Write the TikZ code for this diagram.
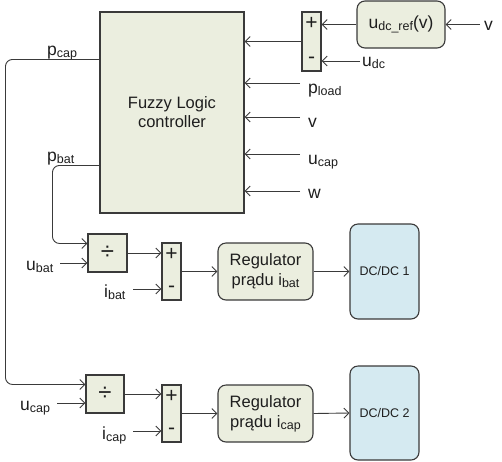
\documentclass[tikz,border=0pt]{standalone}
\usepackage{fontspec}
\setmainfont{Liberation Sans}
\usetikzlibrary{arrows.meta}
\definecolor{boxfill}{HTML}{EBEEDF}
\definecolor{dcfill}{HTML}{D5EAF1}
\definecolor{linec}{HTML}{3A3A3A}
\definecolor{txt}{HTML}{1E1E1E}
\newcommand\sbs[1]{\raisebox{-2pt}{\fontsize{12.5}{13}\selectfont #1}}
\newcommand\mainsz{\fontsize{17.5}{20}\selectfont}
\tikzset{
  blk/.style={draw=linec, line width=1.1pt, fill=boxfill, inner sep=0pt, text=txt},
  rblk/.style={blk, rounded corners=8pt},
  dcblk/.style={draw=linec, line width=1.1pt, fill=dcfill, rounded corners=8pt, inner sep=0pt, text=txt, font=\fontsize{12.5}{15}\selectfont},
  arr/.style={draw=linec, line width=0.9pt, -{Straight Barb[length=5pt,width=10pt]}},
  lab/.style={anchor=base west, inner sep=0pt, text=txt, font=\mainsz},
  sgn/.style={inner sep=0pt, text=txt, font=\fontsize{21}{21}\selectfont},
  divsgn/.style={font=\fontsize{24}{24}\selectfont}
}
\begin{document}
\begin{tikzpicture}[x=1pt,y=-1pt]
\useasboundingbox (0,0) rectangle (502,461);
% blocks
\node[blk, minimum width=144pt, minimum height=201pt, align=center, font=\fontsize{16.5}{19}\selectfont] (fl) at (172,112.5) {Fuzzy Logic\\controller};
\node[blk, minimum width=19pt, minimum height=59pt] (s1) at (311.5,41.5) {};
\node[rblk, minimum width=88pt, minimum height=47pt] (ur) at (401,24.5) {\mainsz u\sbs{dc\_ref}(v)};
\node[blk, minimum width=39pt, minimum height=38pt, divsgn] (d1) at (107.5,253) {÷};
\node[blk, minimum width=19pt, minimum height=57pt] (s2) at (171.5,271.5) {};
\node[rblk, minimum width=95pt, minimum height=57pt, align=center, font=\fontsize{16.5}{20}\selectfont] (r1) at (265.5,271.5) {Regulator\\prądu i\sbs{bat}};
\node[dcblk, minimum width=69pt, minimum height=95pt] (dc1) at (384.5,271.5) {DC/DC 1};
\node[blk, minimum width=38pt, minimum height=38pt, divsgn] (d2) at (105,394) {÷};
\node[blk, minimum width=19pt, minimum height=57pt] (s3) at (171.5,413.5) {};
\node[rblk, minimum width=95pt, minimum height=57pt, align=center, font=\fontsize{16.5}{20}\selectfont] (r2) at (265.5,413.5) {Regulator\\prądu i\sbs{cap}};
\node[dcblk, minimum width=69pt, minimum height=94pt] (dc2) at (384.5,413) {DC/DC 2};
% signs
\node[sgn] (s1p) at (311.5,23.5) {+};
\node[sgn] (s1m) at (311.5,60.5) {-};
\node[sgn] (s2p) at (171.5,254) {+};
\node[sgn] (s2m) at (171.5,289) {-};
\node[sgn] (s3p) at (171.5,396) {+};
\node[sgn] (s3m) at (171.5,431) {-};
% input coordinates
\coordinate (vin) at (480,24.5);
\coordinate (udcin) at (360,61);
\coordinate (plin) at (300,83);
\coordinate (vfin) at (300,117);
\coordinate (ucfin) at (300,154);
\coordinate (win) at (300,191);
\coordinate (ubin) at (60,263);
\coordinate (ibin) at (133,289);
\coordinate (ucin) at (57,403);
\coordinate (icin) at (133,431);
% labels
\node[lab] (lv) at (484,30) {v};
\node[lab] (ludc) at (362,66) {u\sbs{dc}};
\node[lab] (lpl) at (308,93) {p\sbs{load}};
\node[lab] (lvf) at (308,127) {v};
\node[lab] (luc) at (308,164) {u\sbs{cap}};
\node[lab] (lw) at (308,198) {w};
\node[lab] (lpc) at (47,55) {p\sbs{cap}};
\node[lab] (lpb) at (47,161) {p\sbs{bat}};
\node[lab] (lub) at (26,270) {u\sbs{bat}};
\node[lab] (lib) at (104,297) {i\sbs{bat}};
\node[lab] (luc2) at (20,410) {u\sbs{cap}};
\node[lab] (lic) at (102,439) {i\sbs{cap}};
% connectors
\draw[arr] (vin) -- (ur.east);
\draw[arr] (ur.west) -- (ur.west -| s1.east);
\draw[arr] (udcin) -- (udcin -| s1.east);
\draw[arr] (s1.west) -- (s1.west -| fl.east);
\draw[arr] (plin) -- (plin -| fl.east);
\draw[arr] (vfin) -- (vfin -| fl.east);
\draw[arr] (ucfin) -- (ucfin -| fl.east);
\draw[arr] (win) -- (win -| fl.east);
\draw[arr, rounded corners=7pt] ([yshift=-48pt]fl.north west) -- ++(-94,0) |- ([yshift=-10pt]d2.north west);
\draw[arr, rounded corners=7pt] ([yshift=-154pt]fl.north west) -- ++(-47,0) |- ([yshift=-10pt]d1.north west);
\draw[arr] (ubin) -- (ubin -| d1.west);
\draw[arr] (d1.east) -- (d1.east -| s2.west);
\draw[arr] (ibin) -- (ibin -| s2.west);
\draw[arr] (s2.east) -- (r1.west);
\draw[arr] (r1.east) -- (dc1.west);
\draw[arr] (ucin) -- (ucin -| d2.west);
\draw[arr] (d2.east) -- (d2.east -| s3.west);
\draw[arr] (icin) -- (icin -| s3.west);
\draw[arr] (s3.east) -- (r2.west);
\draw[arr] (r2.east) -- (dc2.west);
\end{tikzpicture}
\end{document}
